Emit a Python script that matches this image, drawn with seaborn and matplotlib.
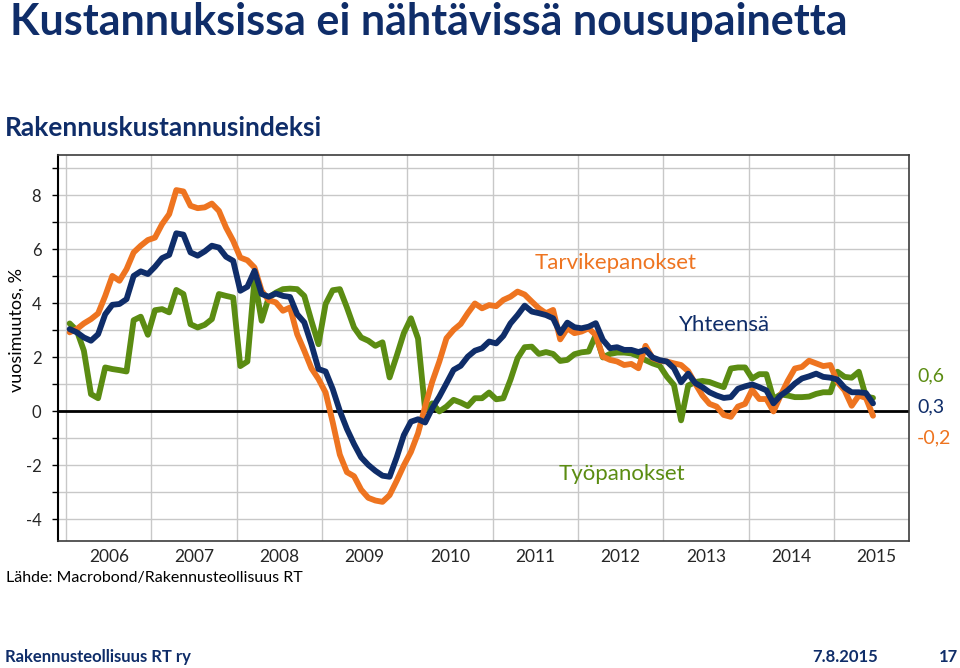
import numpy as np
import pandas as pd
import matplotlib
matplotlib.use("Agg")
import matplotlib.pyplot as plt
import seaborn as sns

# ---- data (monthly, Jan 2006 - Jun 2015), annual change %
months = pd.date_range("2006-01-01", periods=114, freq="MS")

yhteensa = [3.05, 2.93, 2.74, 2.62, 2.86, 3.6, 3.95, 3.98, 4.16, 5.02, 5.19, 5.09,
            5.36, 5.68, 5.8, 6.6, 6.55, 5.89, 5.77, 5.93, 6.14, 6.07, 5.73, 5.58,
            4.47, 4.62, 5.21, 4.35, 4.25, 4.37, 4.28, 4.24, 3.6, 3.3, 2.49, 1.57,
            1.48, 0.83, 0.02, -0.65, -1.21, -1.7, -1.98, -2.2, -2.38, -2.42, -1.7, -0.88,
            -0.38, -0.29, -0.41, 0.12, 0.55, 1.04, 1.54, 1.69, 2.03, 2.25, 2.34, 2.59,
            2.52, 2.8, 3.26, 3.57, 3.92, 3.7, 3.64, 3.57, 3.45, 2.9, 3.29, 3.12,
            3.08, 3.14, 3.27, 2.65, 2.34, 2.38, 2.28, 2.28, 2.2, 2.28, 2.0, 1.9,
            1.85, 1.6, 1.08, 1.4, 1.05, 0.9, 0.71, 0.59, 0.5, 0.53, 0.84, 0.93,
            1.0, 0.9, 0.78, 0.3, 0.59, 0.78, 1.03, 1.22, 1.3, 1.4, 1.28, 1.25,
            1.18, 0.88, 0.71, 0.71, 0.68, 0.3]

tarvikepanokset = [2.93, 3.05, 3.26, 3.42, 3.63, 4.28, 5.02, 4.84, 5.27, 5.89, 6.14, 6.35,
                   6.44, 6.94, 7.31, 8.2, 8.15, 7.62, 7.53, 7.56, 7.7, 7.43, 6.81, 6.32,
                   5.7, 5.6, 5.33, 4.47, 4.12, 4.04, 3.73, 3.85, 2.86, 2.25, 1.6, 1.2,
                   0.7, -0.4, -1.6, -2.25, -2.4, -2.9, -3.2, -3.3, -3.35, -3.1, -2.57, -2.0,
                   -1.5, -0.81, 0.18, 1.1, 1.85, 2.71, 3.02, 3.24, 3.64, 4.0, 3.82, 3.94,
                   3.9, 4.13, 4.25, 4.44, 4.33, 4.07, 3.82, 3.64, 3.76, 2.67, 3.08, 2.9,
                   2.96, 3.08, 2.83, 2.03, 1.91, 1.85, 1.72, 1.76, 1.6, 2.43, 1.97, 1.88,
                   1.85, 1.78, 1.72, 1.49, 1.03, 0.59, 0.28, 0.18, -0.13, -0.2, 0.18, 0.28,
                   0.8, 0.46, 0.46, 0.0, 0.59, 1.13, 1.59, 1.65, 1.88, 1.78, 1.68, 1.72,
                   1.09, 0.78, 0.21, 0.59, 0.5, -0.16]

tyopanokset = [3.26, 3.0, 2.25, 0.64, 0.49, 1.63, 1.57, 1.53, 1.48, 3.38, 3.51, 2.84,
               3.75, 3.79, 3.67, 4.5, 4.35, 3.23, 3.11, 3.21, 3.42, 4.35, 4.28, 4.22,
               1.68, 1.85, 4.9, 3.36, 4.22, 4.4, 4.53, 4.55, 4.53, 4.28, 3.36, 2.49,
               3.98, 4.49, 4.53, 3.85, 3.11, 2.74, 2.62, 2.43, 2.56, 1.26, 2.06, 2.9,
               3.45, 2.7, 0.05, 0.3, 0.0, 0.18, 0.43, 0.33, 0.2, 0.49, 0.49, 0.7,
               0.45, 0.49, 1.17, 1.97, 2.38, 2.4, 2.13, 2.2, 2.13, 1.87, 1.91, 2.12,
               2.19, 2.22, 2.83, 2.0, 2.13, 2.18, 2.18, 2.15, 2.05, 1.9, 1.78, 1.69,
               1.29, 0.98, -0.33, 0.96, 1.09, 1.13, 1.09, 0.99, 0.9, 1.59, 1.63, 1.63,
               1.22, 1.38, 1.38, 0.46, 0.63, 0.59, 0.53, 0.53, 0.55, 0.65, 0.71, 0.71,
               1.47, 1.28, 1.25, 1.47, 0.55, 0.5]

series_names = ["Työpanokset", "Yhteensä", "Tarvikepanokset"]
end_labels = ["0,6", "0,3", "-0,2"]
year_labels = [str(y) for y in range(2006, 2016)]
y_tick_values = [-4, -2, 0, 2, 4, 6, 8]

NAVY = "#0f2d69"
ORANGE = "#ee7420"
GREEN = "#5b8c12"
palette = {"Työpanokset": GREEN, "Yhteensä": NAVY, "Tarvikepanokset": ORANGE}

# decimal-year position (mid month)
xpos = months.year + (months.month - 0.5) / 12.0
df = pd.concat([
    pd.DataFrame({"x": xpos, "value": tyopanokset, "sarja": "Työpanokset"}),
    pd.DataFrame({"x": xpos, "value": tarvikepanokset, "sarja": "Tarvikepanokset"}),
    pd.DataFrame({"x": xpos, "value": yhteensa, "sarja": "Yhteensä"}),
])

sns.set_style("white")
plt.rcParams["font.family"] = ["Lato", "DejaVu Sans"]

W, H = 960, 668
fig = plt.figure(figsize=(W / 100, H / 100), dpi=100)
ax = fig.add_axes([58 / W, 1 - 541 / H, (909 - 58) / W, (541 - 155) / H])

# gridlines
for v in range(-4, 10):
    ax.axhline(v, color="#c8c8c8", lw=1.0, zorder=0)
for yr in range(2006, 2016):
    ax.axvline(yr, color="#c8c8c8", lw=1.0, zorder=0)
ax.axhline(0, color="black", lw=2.0, zorder=1)

sns.lineplot(data=df, x="x", y="value", hue="sarja", palette=palette,
             hue_order=["Työpanokset", "Tarvikepanokset", "Yhteensä"],
             linewidth=4.2, legend=False, ax=ax, zorder=3)

ax.set_xlim(2005.905, 2015.88)
ax.set_ylim(-4.8, 9.5)
ax.set_yticks(y_tick_values)
ax.set_yticklabels([str(v) for v in y_tick_values], fontsize=12)
ax.set_yticks(range(-4, 10), minor=True)
ax.tick_params(axis="y", which="both", left=True, length=4, width=1, color="black", pad=8)
ax.set_xticks([y + 0.5 for y in range(2006, 2016)])
ax.set_xticklabels(year_labels, fontsize=12.5)
ax.tick_params(axis="x", length=0, pad=6)
ax.set_xlabel("")
ax.set_ylabel("")

for s in ["top", "right", "bottom"]:
    ax.spines[s].set_color("#3c3c3c")
    ax.spines[s].set_linewidth(1.2)
ax.spines["left"].set_color("black")
ax.spines["left"].set_linewidth(1.5)

# y-axis title
fig.text(17 / W, 1 - 330 / H, "vuosimuutos, %", rotation=90, color="black",
         fontsize=13, va="center", ha="center")

# series annotations inside the plot
ax.text(2011.49, 5.5, "Tarvikepanokset", color=ORANGE, fontsize=16, va="center", ha="left")
ax.text(2013.18, 3.2, "Yhteensä", color=NAVY, fontsize=16, va="center", ha="left")
ax.text(2011.77, -2.3, "Työpanokset", color=GREEN, fontsize=16, va="center", ha="left")

# end-value labels to the right of the plot
for txt, col, py in zip(end_labels, [GREEN, NAVY, ORANGE], [376, 407, 438]):
    fig.text(917 / W, 1 - py / H, txt, color=col, fontsize=14, va="center", ha="left")

# titles and footer
fig.text(10 / W, 1 - 22 / H, "Kustannuksissa ei nähtävissä nousupainetta",
         color=NAVY, fontsize=31, fontweight="bold", va="center", ha="left")
fig.text(5 / W, 1 - 128 / H, "Rakennuskustannusindeksi",
         color=NAVY, fontsize=19, fontweight="bold", va="center", ha="left")
fig.text(6 / W, 1 - 578 / H, "Lähde: Macrobond/Rakennusteollisuus RT",
         color="black", fontsize=11.5, va="center", ha="left")
fig.text(5 / W, 1 - 657 / H, "Rakennusteollisuus RT ry",
         color=NAVY, fontsize=12, fontweight="bold", va="center", ha="left")
fig.text(845 / W, 1 - 657 / H, "7.8.2015",
         color=NAVY, fontsize=12, fontweight="bold", va="center", ha="center")
fig.text(948 / W, 1 - 657 / H, "17",
         color=NAVY, fontsize=12, fontweight="bold", va="center", ha="center")

fig.savefig("out.png", dpi=100)
